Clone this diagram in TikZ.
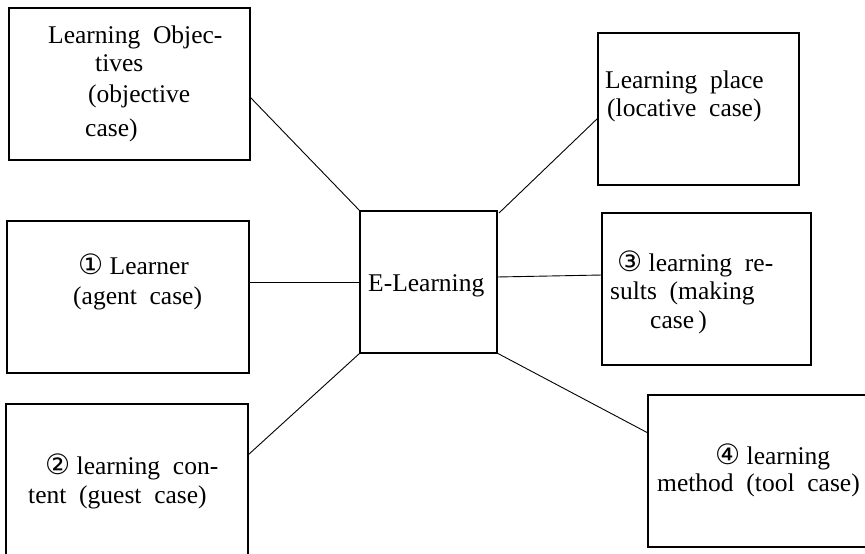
\documentclass[tikz,border=0pt]{standalone}
\usepackage{fontspec}
\setmainfont{Liberation Serif}
\newfontfamily\circfont{DejaVu Sans}
\usetikzlibrary{calc}
\newcommand{\circd}[1]{{\circfont\fontsize{28}{30}\selectfont #1}}
\begin{document}
\begin{tikzpicture}[x=1pt,y=-1pt,
  box/.style={draw, line width=2.4pt, inner sep=0pt, outer sep=0pt},
  txt/.style={anchor=base west, inner sep=0pt, font=\fontsize{25.5}{30}\selectfont},
  link/.style={draw, line width=0.9pt}]
\useasboundingbox (0,0) rectangle (865,554);
\clip (0,0) rectangle (865,554);
% boxes
\node[box, minimum width=241pt, minimum height=152pt] (obj) at (129.5,84) {};
\node[box, minimum width=201pt, minimum height=152pt] (place) at (698.5,109) {};
\node[box, minimum width=242pt, minimum height=152pt] (learner) at (128,297) {};
\node[box, minimum width=137pt, minimum height=142pt] (cen) at (428.5,282) {};
\node[box, minimum width=209pt, minimum height=152pt] (res) at (706.5,289) {};
\node[box, minimum width=242pt, minimum height=152pt] (cont) at (127,480) {};
\node[box, minimum width=222pt, minimum height=152pt] (meth) at (759,471) {};
% texts
\node[txt] (t1a) at (48,43) {Learning\ \ Objec-};
\node[txt] (t1b) at (95,71) {tives};
\node[txt] (t1c) at (88,102) {(objective};
\node[txt] (t1d) at (85,136) {case)};
\node[txt] (t2a) at (605,88) {Learning\ \ place};
\node[txt] (t2b) at (607,116) {(locative\ \ case)};
\node[txt] (t3a) at (78,274) {\circd{①} Learner};
\node[txt] (t3b) at (73,304) {(agent\ \ case)};
\node[txt] (tc) at (368,291) {E-Learning};
\node[txt] (t5a) at (617,271) {\circd{③} learning\ \ re-};
\node[txt] (t5b) at (610,299) {sults\ \ (making};
\node[txt] (t5c) at (650,328) {case\,)};
\node[txt] (t6a) at (45,474) {\circd{②} learning\ \ con-};
\node[txt] (t6b) at (28,503) {tent\ \ (guest\ \ case)};
\node[txt] (t7a) at (715,464) {\circd{④} learning};
\node[txt] (t7b) at (657,491) {method\ \ (tool\ \ case)};
% connectors
\draw[link] ($(obj.east)+(0,13)$) -- (cen.north west);
\draw[link] ($(cen.north east)+(2,2)$) -- ($(place.west)+(0,9)$);
\draw[link] (learner.east |- cen.west) -- (cen.west);
\draw[link] ($(cen.east)+(0,-5)$) -- ($(res.west)+(0,-14)$);
\draw[link] (cen.south west) -- ($(cont.north east)+(0,51)$);
\draw[link] (cen.south east) -- ($(meth.west)+(0,-38)$);
\end{tikzpicture}
\end{document}
